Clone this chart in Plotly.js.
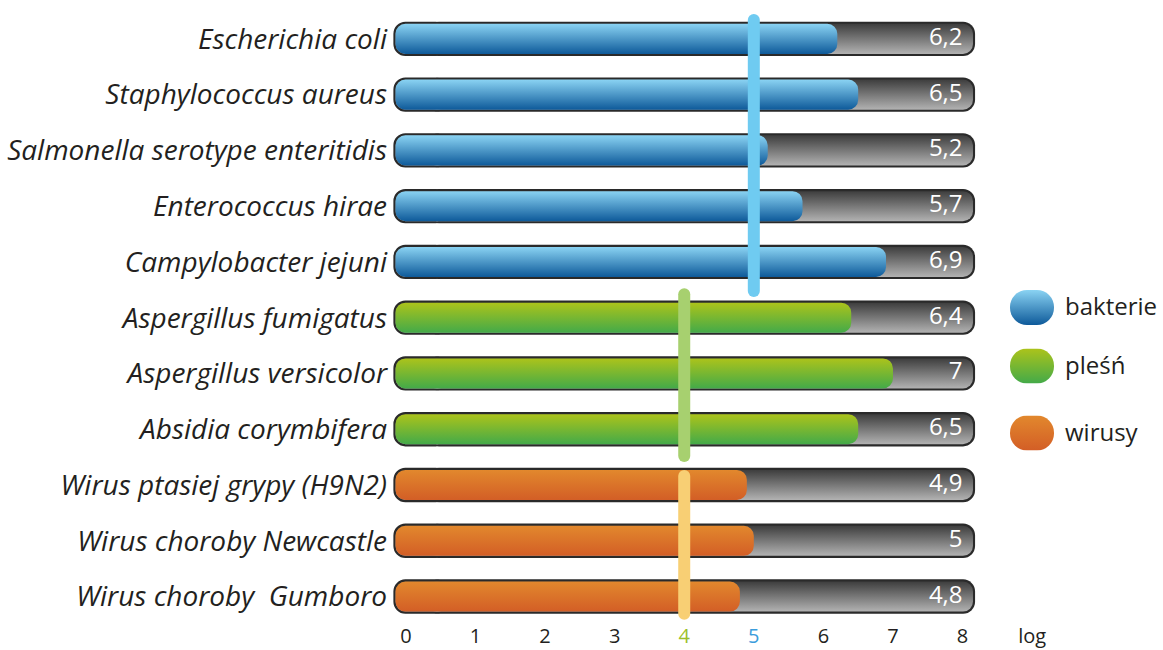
<!DOCTYPE html>
<html>
<head>
<meta charset="utf-8">
<script src="https://cdn.plot.ly/plotly-3.0.1.min.js"></script>
<style>
html,body{margin:0;padding:0;background:#fff;}
#chart{width:1163px;height:650px;}
</style>
</head>
<body>
<svg width="0" height="0" style="position:absolute">
  <defs>
    <linearGradient id="gBlue" x1="0" y1="0" x2="0" y2="1">
      <stop offset="0" stop-color="#8ad3f3"/><stop offset="1" stop-color="#0e5a9a"/>
    </linearGradient>
    <linearGradient id="gGreen" x1="0" y1="0" x2="0" y2="1">
      <stop offset="0" stop-color="#acc31b"/><stop offset="1" stop-color="#43aa49"/>
    </linearGradient>
    <linearGradient id="gOrange" x1="0" y1="0" x2="0" y2="1">
      <stop offset="0" stop-color="#e2882d"/><stop offset="1" stop-color="#d35e26"/>
    </linearGradient>
    <linearGradient id="gGray" x1="0" y1="0" x2="0" y2="1">
      <stop offset="0" stop-color="#3e3e3e"/><stop offset="1" stop-color="#b2b2b2"/>
    </linearGradient>
  </defs>
</svg>
<div id="chart"></div>
<script>
// ---- data ----
const names = ["Escherichia coli","Staphylococcus aureus","Salmonella serotype enteritidis","Enterococcus hirae","Campylobacter jejuni","Aspergillus fumigatus","Aspergillus versicolor","Absidia corymbifera","Wirus ptasiej grypy (H9N2)","Wirus choroby Newcastle","Wirus choroby\u00a0 Gumboro"];
const values = [6.2, 6.5, 5.2, 5.7, 6.9, 6.4, 7, 6.5, 4.9, 5, 4.8];
const groups = ["bakterie","bakterie","bakterie","bakterie","bakterie","pleśń","pleśń","pleśń","wirusy","wirusy","wirusy"];
const groupNames = ["bakterie","pleśń","wirusy"];
const groupThreshold = [5, 4, 4];
const scaleMax = 8;
const xTickVals = [0,1,2,3,4,5,6,7,8,9];
const xTickLabels = ["0","1","2","3","4","5","6","7","8","log"];

// ---- style ----
const groupGrad = {"bakterie":"url(#gBlue)","pleśń":"url(#gGreen)","wirusy":"url(#gOrange)"};
const groupLine = {"bakterie":"#6fcbf1","pleśń":"#a7d06f","wirusy":"#f8cf74"};
const lineOverhang = {"bakterie":[-0.34, 0.52],"pleśń":[-0.42, 0.48],"wirusy":[-0.16, 0.31]};
const tickColors = {"4":"#9cbf2a","5":"#3b9ddc"};
const FONT = "Open Sans, Noto Sans, sans-serif";
const TXT = "#231f20";

const idx = names.map((_, i) => i);
const pad = 0.15;       // track overhang beyond 0 and scaleMax
const split = 0.3;      // where the two rounded halves of the track meet (hidden under value bars)

const data = [];
const halfBar = (extra, w, color, r) => [
  {type:"bar", orientation:"h", y:idx, base:idx.map(()=>split), x:idx.map(()=>scaleMax-split+pad+extra),
   width:w, marker:{color:color, cornerradius:r, opacity:1}, hoverinfo:"skip", showlegend:false},
  {type:"bar", orientation:"h", y:idx, base:idx.map(()=>split+0.3), x:idx.map(()=>-(split+0.3+pad+extra)),
   width:w, marker:{color:color, cornerradius:r, opacity:1}, hoverinfo:"skip", showlegend:false}
];
// dark outline track
data.push(...halfBar(0.03, 0.615, "#2a2a2a", 12));
// gray track
data.push(...halfBar(0, 0.54, "#777777", 10));
const barFills = [null, null, "url(#gGray)", "url(#gGray)"];
// value bars per group
groupNames.forEach(g => {
  const ii = idx.filter(i => groups[i] === g);
  data.push({type:"bar", orientation:"h", y:ii, base:ii.map(i=>values[i]), x:ii.map(i=>-(values[i]+pad)),
    width:0.54, marker:{color:"#888888", cornerradius:10, opacity:1}, hoverinfo:"skip", showlegend:false, name:g});
  barFills.push(groupGrad[g]);
});
// threshold lines per group
groupNames.forEach((g, k) => {
  const ii = idx.filter(i => groups[i] === g);
  const yy = [Math.min(...ii) + lineOverhang[g][0], Math.max(...ii) + lineOverhang[g][1]];
  data.push({type:"scatter", mode:"lines", x:[groupThreshold[k], groupThreshold[k]], y:yy,
    line:{color:groupLine[g], width:12}, hoverinfo:"skip", showlegend:false});
});
// value labels
data.push({type:"scatter", mode:"text", x:idx.map(()=>scaleMax), y:idx,
  text:values.map(v => String(v).replace(".", ",")), textposition:"middle left",
  textfont:{family:FONT, size:24, color:"#ffffff"}, hoverinfo:"skip", showlegend:false});

// geometry of plot area (px)
const L = 392, R = 110, T = 5, B = 28, W = 1163 - L - R, H = 650 - T - B;
const px = x => (x - L) / W;
const py = y => 1 - (y - T) / H;

function pillURI(c0, c1){
  const s = `<svg xmlns="http://www.w3.org/2000/svg" width="44" height="35" viewBox="0 0 44 35"><defs><linearGradient id="g" x1="0" y1="0" x2="0" y2="1"><stop offset="0" stop-color="${c0}"/><stop offset="1" stop-color="${c1}"/></linearGradient></defs><rect x="0" y="0" width="44" height="35" rx="17" ry="17" fill="url(#g)"/></svg>`;
  return "data:image/svg+xml;base64," + btoa(s);
}
const pillColors = {"bakterie":["#8ad3f3","#0e5a9a"],"pleśń":["#acc31b","#43aa49"],"wirusy":["#e2882d","#d35e26"]};
const legendRowsPx = [307.5, 366, 433];
const images = groupNames.map((g, k) => ({source:pillURI(...pillColors[g]), xref:"paper", yref:"paper",
  x:px(1010), y:py(legendRowsPx[k]-17.5), sizex:44/W, sizey:35/H, sizing:"stretch", xanchor:"left", yanchor:"top", layer:"above"}));
const annotations = groupNames.map((g, k) => ({text:g, xref:"paper", yref:"paper", x:px(1063), y:py(legendRowsPx[k]-2),
  xanchor:"left", yanchor:"middle", showarrow:false, font:{family:FONT, size:24, color:TXT}}));

const layout = {
  width:1163, height:650,
  margin:{l:L, r:R, t:T, b:B},
  paper_bgcolor:"#fff", plot_bgcolor:"#fff",
  barmode:"overlay",
  showlegend:false,
  xaxis:{range:[-0.2, 9.3], showgrid:false, zeroline:false, showline:false, ticks:"",
    tickvals:xTickVals, ticktext:xTickLabels.map(t => tickColors[t] ? `<span style="color:${tickColors[t]}">${t}</span>` : t),
    tickfont:{family:FONT, size:20, color:TXT}, fixedrange:true},
  yaxis:{range:[10.457, -0.608], showgrid:false, zeroline:false, showline:false, ticks:"", ticklabelstandoff:4,
    tickvals:idx, ticktext:names, tickfont:{family:FONT, size:28, color:TXT, style:"italic"}, fixedrange:true},
  images:images,
  annotations:annotations
};

Plotly.newPlot("chart", data, layout, {staticPlot:true, displayModeBar:false}).then(gd => {
  gd.querySelectorAll(".barlayer .trace").forEach((t, i) => {
    if (barFills[i]) t.querySelectorAll("path").forEach(p => { p.style.fill = barFills[i]; });
  });
  gd.querySelectorAll(".scatterlayer .trace .js-line").forEach(p => { p.style.strokeLinecap = "round"; });
  gd.querySelectorAll(".ytick text").forEach(t => { t.style.fontStyle = "italic"; });
});
</script>
</body>
</html>
